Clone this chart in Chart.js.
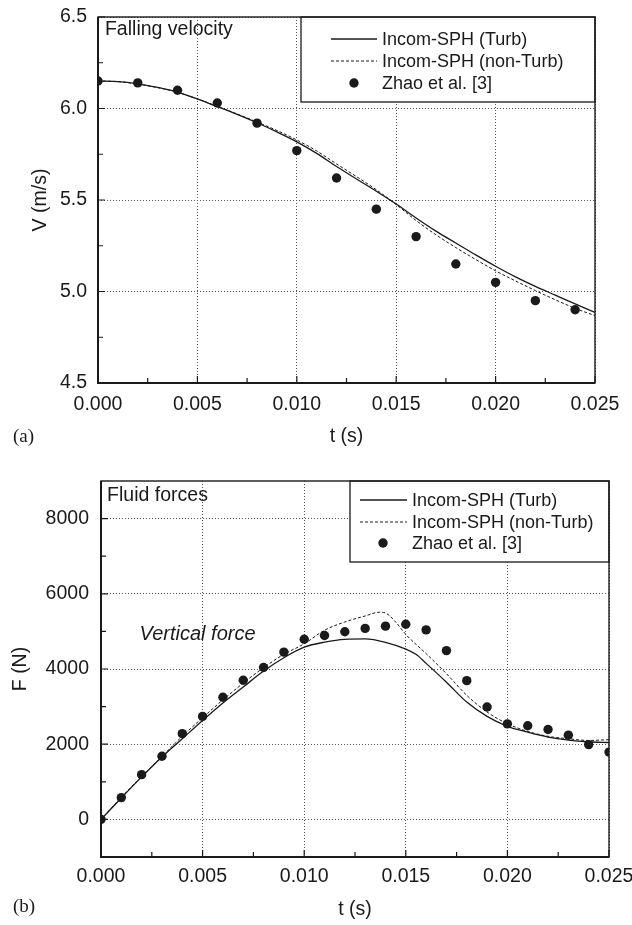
<!DOCTYPE html>
<html>
<head>
<meta charset="utf-8">
<script src="https://cdn.jsdelivr.net/npm/chart.js@4.4.1/dist/chart.umd.min.js"></script>
<style>
  html, body { margin: 0; padding: 0; background: #fff; }
  #wrap { position: relative; width: 632px; height: 925px; }
  canvas { position: absolute; left: 0; }
  #velChart { top: 0; }
  #forceChart { top: 460px; }
</style>
</head>
<body>
<div id="wrap">
  <canvas id="velChart" width="632" height="460"></canvas>
  <canvas id="forceChart" width="632" height="465"></canvas>
</div>
<script>
// ---- data ----
const tModel = [0, 0.001, 0.002, 0.003, 0.004, 0.005, 0.006, 0.007, 0.008, 0.009, 0.010, 0.011, 0.012,
    0.013, 0.014, 0.015, 0.016, 0.017, 0.018, 0.019, 0.020, 0.021, 0.022, 0.023, 0.024, 0.025];
const velTurb = [6.150, 6.147, 6.135, 6.115, 6.090, 6.052, 6.010, 5.968, 5.922, 5.872, 5.818, 5.755, 5.683,
    5.615, 5.548, 5.478, 5.402, 5.330, 5.265, 5.200, 5.138, 5.080, 5.028, 4.980, 4.932, 4.886];
const velNonTurb = [6.150, 6.147, 6.134, 6.114, 6.089, 6.052, 6.012, 5.970, 5.926, 5.880, 5.828, 5.768, 5.697,
    5.628, 5.556, 5.475, 5.388, 5.310, 5.240, 5.175, 5.113, 5.058, 5.005, 4.955, 4.908, 4.868];
const tVelExp = [0, 0.002, 0.004, 0.006, 0.008, 0.010, 0.012, 0.014, 0.016, 0.018, 0.020, 0.022, 0.024];
const velExp = [6.15, 6.14, 6.10, 6.03, 5.92, 5.77, 5.62, 5.45, 5.30, 5.15, 5.05, 4.95, 4.90];

const tForceTurb = [0, 0.001, 0.002, 0.003, 0.004, 0.005, 0.006, 0.007, 0.008, 0.009, 0.010, 0.011, 0.012,
    0.013, 0.014, 0.015, 0.0155, 0.016, 0.017, 0.018, 0.019, 0.020, 0.021, 0.022, 0.023, 0.024, 0.025];
const forceTurb = [0, 570, 1130, 1660, 2145, 2630, 3095, 3520, 3945, 4300, 4580, 4715, 4790,
    4800, 4710, 4530, 4390, 4150, 3650, 3120, 2740, 2475, 2320, 2190, 2110, 2065, 2045];
const tForceNonTurb = [0, 0.001, 0.002, 0.003, 0.004, 0.005, 0.006, 0.007, 0.008, 0.009, 0.010, 0.011, 0.012,
    0.013, 0.0137, 0.014, 0.0145, 0.015, 0.016, 0.017, 0.018, 0.019, 0.020, 0.021, 0.022, 0.023, 0.024, 0.025];
const forceNonTurb = [0, 590, 1140, 1675, 2210, 2705, 3180, 3625, 4035, 4390, 4670, 5030, 5250,
    5410, 5510, 5490, 5250, 4920, 4410, 3875, 3300, 2855, 2545, 2340, 2210, 2145, 2100, 2120];
const tForceExp = tModel;
const forceExp = [0, 580, 1190, 1680, 2280, 2740, 3250, 3700, 4040, 4450, 4790, 4890, 4990,
    5080, 5140, 5190, 5040, 4490, 3690, 2990, 2540, 2490, 2390, 2240, 1990, 1790];

const xTicks = [0, 0.005, 0.010, 0.015, 0.020, 0.025];
const velTicks = [4.5, 5.0, 5.5, 6.0, 6.5];
const forceTicks = [0, 2000, 4000, 6000, 8000];

const seriesLabels = ['Incom-SPH (Turb)', 'Incom-SPH (non-Turb)', 'Zhao et al. [3]'];

const INK = '#1a1a1a';
const SANS = '"Liberation Sans", Arial, Helvetica, sans-serif';

const zip = (xs, ys) => xs.map((x, i) => ({ x, y: ys[i] }));

function makeDatasets(tA, a, tB, b, tC, c) {
    return [
        { label: seriesLabels[0], data: zip(tA, a), borderColor: INK, borderWidth: 1.3,
          pointRadius: 0, cubicInterpolationMode: 'monotone', fill: false },
        { label: seriesLabels[1], data: zip(tB, b), borderColor: INK, borderWidth: 1,
          borderDash: [3, 2], pointRadius: 0, cubicInterpolationMode: 'monotone', fill: false },
        { label: seriesLabels[2], data: zip(tC, c), showLine: false, pointRadius: 4.7,
          pointBackgroundColor: INK, pointBorderWidth: 0, pointStyle: 'circle' }
    ];
}

// frame, inward ticks, legend box, notes, panel letter
const figurePlugin = {
    id: 'figure',
    afterDraw(chart, args, o) {
        const { ctx, chartArea: a } = chart;
        const xs = chart.scales.x, ys = chart.scales.y;
        ctx.save();

        // inward ticks (major + minor) on left and bottom axes
        ctx.strokeStyle = INK;
        ctx.lineWidth = 1.2;
        ctx.setLineDash([]);
        ctx.beginPath();
        xTicks.forEach((v, i) => {
            const px = xs.getPixelForValue(v);
            ctx.moveTo(px, a.bottom); ctx.lineTo(px, a.bottom - 7);
            if (i < xTicks.length - 1) {
                const m = xs.getPixelForValue((v + xTicks[i + 1]) / 2);
                ctx.moveTo(m, a.bottom); ctx.lineTo(m, a.bottom - 5);
            }
        });
        o.yTicks.forEach((v, i) => {
            const py = ys.getPixelForValue(v);
            ctx.moveTo(a.left, py); ctx.lineTo(a.left + 7, py);
            if (i < o.yTicks.length - 1) {
                const m = ys.getPixelForValue((v + o.yTicks[i + 1]) / 2);
                ctx.moveTo(a.left, m); ctx.lineTo(a.left + 5, m);
            }
        });
        ctx.stroke();

        // legend box
        const L = o.legend;
        const bx = a.right - L.width, by = a.top;
        ctx.fillStyle = '#fff';
        ctx.fillRect(bx, by, L.width, L.height);
        ctx.lineWidth = 1.3;
        ctx.strokeStyle = INK;
        ctx.strokeRect(bx, by, L.width, L.height);
        ctx.font = '18px ' + SANS;
        ctx.textBaseline = 'middle';
        ctx.textAlign = 'left';
        chart.data.datasets.forEach((ds, i) => {
            const ry = by + L.rows[i];
            ctx.strokeStyle = INK;
            ctx.fillStyle = INK;
            if (ds.showLine === false) {
                ctx.beginPath();
                ctx.arc(bx + L.marker, ry, 4.7, 0, Math.PI * 2);
                ctx.fill();
            } else {
                ctx.lineWidth = ds.borderWidth;
                ctx.setLineDash(ds.borderDash || []);
                ctx.beginPath();
                ctx.moveTo(bx + L.sample[0], ry);
                ctx.lineTo(bx + L.sample[1], ry);
                ctx.stroke();
                ctx.setLineDash([]);
            }
            ctx.fillText(ds.label, bx + L.text, ry + 1);
        });

        // notes placed in data coordinates
        o.notes.forEach(n => {
            ctx.font = (n.italic ? 'italic ' : '') + n.size + 'px ' + SANS;
            ctx.fillStyle = INK;
            ctx.fillText(n.text, xs.getPixelForValue(n.t), ys.getPixelForValue(n.v));
        });

        // plot frame
        ctx.strokeStyle = INK;
        ctx.lineWidth = 1.4;
        ctx.strokeRect(a.left, a.top, a.width, a.height);
        ctx.lineWidth = 2;
        ctx.beginPath();
        ctx.moveTo(a.left, a.top); ctx.lineTo(a.left, a.bottom); ctx.lineTo(a.right, a.bottom);
        ctx.stroke();

        // panel letter
        ctx.font = '19px "Liberation Serif", "Times New Roman", serif';
        ctx.fillStyle = INK;
        ctx.fillText(o.panel.text, o.panel.x, o.panel.y);
        ctx.restore();
    }
};

function buildChart(id, cfg) {
    const tickFont = { family: SANS, size: 19.5 };
    return new Chart(document.getElementById(id), {
        type: 'line',
        data: { datasets: cfg.datasets },
        plugins: [figurePlugin],
        options: {
            responsive: false,
            animation: false,
            layout: { padding: { top: cfg.padTop, right: cfg.padRight, left: 0, bottom: 0 } },
            plugins: {
                legend: { display: false },
                tooltip: { enabled: false },
                figure: cfg.figure
            },
            scales: {
                x: {
                    type: 'linear',
                    min: 0,
                    max: 0.025,
                    afterBuildTicks: s => { s.ticks = xTicks.map(v => ({ value: v })); },
                    afterFit: s => { s.height = cfg.xHeight; s.paddingLeft = 0; s.paddingRight = 0; },
                    ticks: { callback: v => v.toFixed(3), font: tickFont, color: INK,
                             padding: cfg.xPad, maxRotation: 0, autoSkip: false },
                    grid: { color: '#555', lineWidth: 1, drawTicks: false },
                    border: { display: false, dash: [1, 2] },
                    title: { display: true, text: 't (s)', font: tickFont, color: INK,
                             padding: { top: 0, bottom: cfg.xTitlePad } }
                },
                y: {
                    type: 'linear',
                    min: cfg.yMin,
                    max: cfg.yMax,
                    afterBuildTicks: s => { s.ticks = cfg.yTicks.map(v => ({ value: v })); },
                    afterFit: s => { s.width = cfg.yWidth; s.paddingTop = 0; s.paddingBottom = 0; },
                    ticks: { callback: cfg.yFormat, font: tickFont, color: INK, padding: cfg.yPad },
                    grid: { color: '#555', lineWidth: 1, drawTicks: false },
                    border: { display: false, dash: [1, 2] },
                    title: { display: true, text: cfg.yTitle, font: tickFont, color: INK,
                             padding: { top: cfg.yTitlePad, bottom: 0 } }
                }
            }
        }
    });
}

buildChart('velChart', {
    datasets: makeDatasets(tModel, velTurb, tModel, velNonTurb, tVelExp, velExp),
    padTop: 17, padRight: 37, xHeight: 77, yWidth: 98,
    xPad: 10, yPad: 11, xTitlePad: 12, yTitlePad: 29,
    yMin: 4.5, yMax: 6.5, yTicks: velTicks, yTitle: 'V (m/s)',
    yFormat: v => v.toFixed(1),
    figure: {
        yTicks: velTicks,
        legend: { width: 294, height: 85, rows: [22, 44, 66], sample: [30, 76], marker: 53, text: 81 },
        notes: [{ text: 'Falling velocity', t: 0.00035, v: 6.43, size: 19.5 }],
        panel: { text: '(a)', x: 13, y: 437 }
    }
});

buildChart('forceChart', {
    datasets: makeDatasets(tForceTurb, forceTurb, tForceNonTurb, forceNonTurb, tForceExp, forceExp),
    padTop: 21, padRight: 23, xHeight: 68, yWidth: 101,
    xPad: 8, yPad: 12, xTitlePad: 4, yTitlePad: 9,
    yMin: -1000, yMax: 9000, yTicks: forceTicks, yTitle: 'F (N)',
    yFormat: v => String(v),
    figure: {
        yTicks: forceTicks,
        legend: { width: 259, height: 81, rows: [19, 41, 62], sample: [10, 57], marker: 33, text: 62 },
        notes: [
            { text: 'Fluid forces', t: 0.0003, v: 8620, size: 19.5 },
            { text: 'Vertical force', t: 0.0019, v: 4920, size: 20, italic: true }
        ],
        panel: { text: '(b)', x: 13, y: 447 }
    }
});
</script>
</body>
</html>
